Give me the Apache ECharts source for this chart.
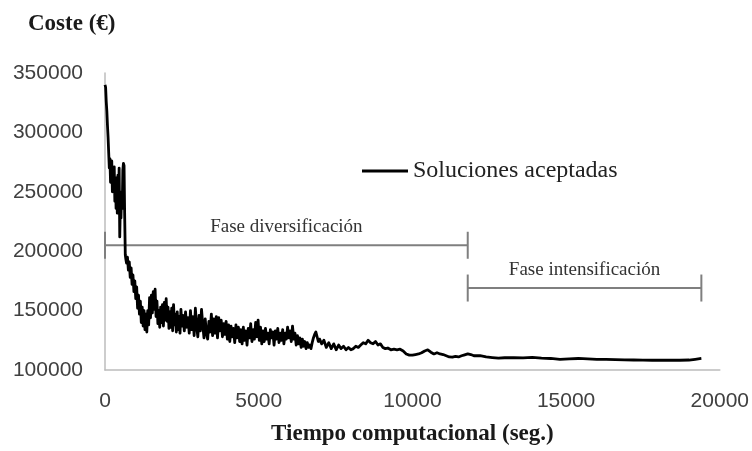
<!DOCTYPE html>
<html>
<head>
<meta charset="utf-8">
<title>Coste frente a tiempo computacional</title>
<script src="https://cdn.jsdelivr.net/npm/echarts@6/dist/echarts.min.js"></script>
<style>
  html, body { margin: 0; padding: 0; background: #fff; }
  #chart { width: 752px; height: 451px; }
</style>
</head>
<body>
<div id="chart"></div>
<script>
// Tiempo computacional (s) y coste (€) de cada solución aceptada
const tiempo = [
  0, 20, 40, 60, 80, 100, 120, 140, 160, 180, 200, 220, 240, 260, 280, 300, 320, 340, 360, 380,
  400, 420, 440, 460, 480, 500, 520, 540, 560, 580, 600, 620, 640, 660, 680,
  700, 730, 760, 790, 820, 850, 880, 910, 940, 970, 1000, 1030, 1060, 1090, 1120, 1150, 1180, 1210,
  1240, 1270, 1300, 1330, 1360, 1390, 1420, 1450, 1480, 1510, 1540, 1570, 1600, 1630, 1660, 1690,
  1720, 1750, 1780, 1810, 1840, 1870, 1900, 1930, 1960, 1990, 2020, 2050, 2080, 2110, 2140, 2170,
  2200, 2230, 2260, 2290, 2320, 2350, 2380, 2410, 2440, 2470, 2500,
  2540, 2580, 2620, 2660, 2700, 2740, 2780, 2820, 2860, 2900, 2940, 2980, 3020, 3060, 3100, 3140,
  3180, 3220, 3260, 3300, 3340, 3380, 3420, 3460, 3500, 3540, 3580, 3620, 3660, 3700, 3740, 3780,
  3820, 3860, 3900, 3940, 3980, 4020, 4060, 4100, 4140, 4180, 4220, 4260, 4300, 4340, 4380, 4420,
  4460, 4500, 4540, 4580, 4620, 4660, 4700, 4740, 4780, 4820, 4860, 4900, 4940, 4980, 5020, 5060,
  5100, 5140, 5180, 5220, 5260, 5300, 5340, 5380, 5420, 5460, 5500, 5540, 5580, 5620, 5660, 5700,
  5740, 5780, 5820, 5860, 5900, 5940, 5980, 6020, 6060, 6100, 6140, 6180, 6220, 6260, 6300, 6340,
  6380, 6420, 6460, 6500, 6540, 6580, 6620, 6660, 6700, 6740, 6780, 6820, 6860, 6900, 6940, 6980,
  7050, 7120, 7200, 7280, 7360, 7440, 7520, 7600, 7680, 7760, 7840, 7920, 8000, 8080, 8160, 8240,
  8320, 8400, 8480, 8560, 8640, 8720, 8800, 8880, 8960, 9040, 9120, 9200, 9300, 9400, 9500, 9600,
  9700, 9800, 9900, 10000, 10100, 10200, 10300, 10400, 10500, 10600, 10700, 10800, 10900, 11000,
  11100, 11200, 11300, 11400, 11500, 11600, 11700, 11800, 11900, 12000,
  12200, 12400, 12600, 12800, 13000, 13300, 13600, 13900, 14200, 14500, 14800, 15100, 15400, 15700,
  16000, 16300, 16600, 16900, 17200, 17500, 17800, 18100, 18400, 18700, 19000, 19200, 19400
];

const coste = [
  340000, 338000, 326000, 318000, 306000, 296000, 283000, 270000, 278000, 258000, 272000, 276000, 250000, 266000, 255000, 271000, 242000, 262000, 236000, 258000,
  232000, 264000, 244000, 270000, 212000, 240000, 228000, 250000, 236000, 268000, 274000, 272000, 230000, 197000, 193000,
  190000, 195000, 184000, 191000, 178000, 186000, 172000, 180000, 166000, 175000, 160000, 170000, 152000, 163000, 147000, 158000, 140000, 153000,
  137000, 150000, 134000, 147000, 132000, 150000, 138000, 161000, 144000, 163000, 148000, 166000, 151000, 168000, 145000, 158000,
  139000, 150000, 136000, 153000, 140000, 155000, 137000, 157000, 142000, 160000, 141000, 153000, 135000, 149000, 136000, 152000,
  133000, 155000, 138000, 147000, 132000, 149000, 134000, 145000, 131000, 151000, 137000,
  146000, 133000, 149000, 136000, 144000, 131000, 150000, 134000, 145000, 129000, 152000, 137000, 128000, 146000, 133000, 151000,
  138000, 127000, 143000, 131000, 126000, 141000, 132000, 147000, 129000, 143000, 131000, 145000, 127000, 144000, 133000, 142000,
  128000, 139000, 130000, 141000, 126000, 138000, 124000, 137000, 128000, 135000, 123000, 138000, 127000, 136000, 124000, 134000,
  122000, 136000, 125000, 133000, 121000, 135000, 127000, 139000, 124000, 134000, 126000, 140000, 128000, 142000, 125000, 136000,
  122000, 133000, 124000, 135000, 126000, 131000, 122000, 134000, 127000, 132000, 121000, 133000, 126000, 135000, 123000, 131000,
  125000, 134000, 122000, 131000, 126000, 136000, 127000, 133000, 124000, 137000, 126000, 131000, 121000, 129000, 122000, 127000,
  119000, 126000, 120000, 124000, 118000, 123000, 119000, 121000, 118000, 123000, 127000, 130000, 132000, 128000, 124000, 126000,
  122000, 125000, 119000, 123000, 118000, 122000, 117000, 121000, 118000, 120000, 117000, 119000, 117000, 118000, 120000, 119000,
  121000, 123000, 122000, 125000, 123000, 122000, 124000, 121000, 122000, 119000, 118000, 118500, 117000, 117500, 117000, 117500,
  116000, 113500, 112500, 112500, 113000, 113500, 114500, 116000, 117000, 115000, 113500, 114500, 113500, 113000,
  112000, 111000, 110800, 111500, 111000, 112000, 112800, 113600, 113000, 112000,
  112000, 111000, 110500, 110000, 110300, 110500, 110200, 110600, 110000, 109700, 109000, 109400, 109700, 109300,
  109000, 108900, 108700, 108500, 108400, 108300, 108200, 108200, 108300, 108200, 108400, 109000, 109700
];

// Fases de la búsqueda: inicio, fin (s) y nivel de coste donde se rotulan
const faseEtiqueta = ['Fase diversificación', 'Fase intensificación'];
const faseInicio = [0, 11800];
const faseFin = [11800, 19400];
const faseNivel = [205000, 169000];

// Marcas de los ejes
const ticksX = [0, 5000, 10000, 15000, 20000];
const ticksY = [100000, 150000, 200000, 250000, 300000, 350000];

const serie = tiempo.map((t, i) => [t, coste[i]]);
const fases = faseInicio.map((x0, i) => [x0, faseFin[i], faseNivel[i]]);

const chart = echarts.init(document.getElementById('chart'), null, { renderer: 'canvas' });

const serif = '"Liberation Serif", "Times New Roman", serif';
const sans = '"Liberation Sans", Arial, sans-serif';
const grisEje = '#bcbcbc';
const grisFase = '#7f7f7f';

chart.setOption({
  animation: false,
  backgroundColor: '#ffffff',
  title: {
    text: 'Coste (€)',
    left: 28,
    top: 13,
    padding: 0,
    textStyle: { fontFamily: serif, fontWeight: 'bold', fontSize: 23, lineHeight: 23, color: '#1a1a1a' }
  },
  legend: {
    data: ['Soluciones aceptadas'],
    left: 362,
    top: 159,
    padding: 0,
    icon: 'rect',
    itemWidth: 46,
    itemHeight: 3,
    itemGap: 4,
    selectedMode: false,
    textStyle: { fontFamily: serif, fontSize: 24, color: '#222' }
  },
  grid: { left: 105, right: 32, top: 73, bottom: 78 },
  xAxis: {
    type: 'value',
    min: ticksX[0],
    max: ticksX[ticksX.length - 1],
    interval: ticksX[1] - ticksX[0],
    name: 'Tiempo computacional (seg.)',
    nameLocation: 'middle',
    nameGap: 53,
    nameTextStyle: { fontFamily: serif, fontWeight: 'bold', fontSize: 23, color: '#1a1a1a' },
    axisLine: { show: true, lineStyle: { color: grisEje, width: 1.5 } },
    axisTick: { show: false },
    splitLine: { show: false },
    axisLabel: { margin: 21, fontFamily: sans, fontSize: 21, color: '#404040', formatter: v => String(v) }
  },
  yAxis: {
    type: 'value',
    min: ticksY[0],
    max: ticksY[ticksY.length - 1],
    interval: ticksY[1] - ticksY[0],
    axisLine: { show: true, lineStyle: { color: grisEje, width: 1.5 } },
    axisTick: { show: false },
    splitLine: { show: false },
    axisLabel: { margin: 22, fontFamily: sans, fontSize: 21, color: '#404040', formatter: v => String(v) }
  },
  series: [
    {
      name: 'Soluciones aceptadas',
      type: 'line',
      data: serie,
      symbol: 'none',
      showSymbol: false,
      color: '#000',
      lineStyle: { color: '#000', width: 2.8, join: 'round' },
      z: 3
    },
    {
      name: 'fases',
      type: 'custom',
      data: fases,
      z: 2,
      silent: true,
      renderItem: function (params, api) {
        const a = api.coord([api.value(0), api.value(2)]);
        const b = api.coord([api.value(1), api.value(2)]);
        const h = 13.5;
        const estilo = { stroke: grisFase, lineWidth: 2 };
        return {
          type: 'group',
          children: [
            { type: 'line', shape: { x1: a[0], y1: a[1], x2: b[0], y2: b[1] }, style: estilo },
            { type: 'line', shape: { x1: a[0], y1: a[1] - h, x2: a[0], y2: a[1] + h }, style: estilo },
            { type: 'line', shape: { x1: b[0], y1: b[1] - h, x2: b[0], y2: b[1] + h }, style: estilo },
            {
              type: 'text',
              style: {
                x: (a[0] + b[0]) / 2,
                y: a[1] - 18,
                text: faseEtiqueta[params.dataIndex],
                fill: '#333',
                font: '19px ' + serif,
                align: 'center',
                verticalAlign: 'middle'
              }
            }
          ]
        };
      }
    }
  ]
});
</script>
</body>
</html>
